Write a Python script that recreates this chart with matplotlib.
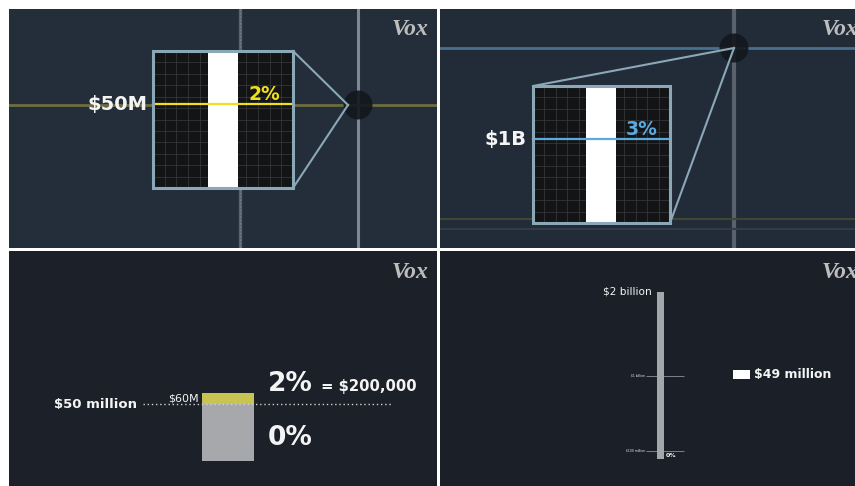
import matplotlib
matplotlib.use("Agg")
import matplotlib.pyplot as plt
from matplotlib.patches import Rectangle, Circle

W, H = 855, 486
SANS = "DejaVu Sans"
LOGO = "Liberation Serif"

# Wealth-tax brackets shown in the magnified insets
bracket_labels = ["$50M", "$1B"]
bracket_rates = ["2%", "3%"]
bracket_colors = ["#f0df1e", "#5ca9de"]
bracket_dim_colors = ["#6d6e3f", "#48708f"]

# A $60M fortune against the $50M threshold
example_wealth = 60            # $ millions
example_threshold = 50         # $ millions
example_wealth_label = "$60M"
example_threshold_label = "$50 million"
example_rates = ["0%", "2%"]
example_tax_label = "= $200,000"

# A $2B fortune
big_wealth = 2000              # $ millions
big_wealth_label = "$2 billion"
big_ticks = [1000, 100]        # $ millions
big_tick_labels = ["$1 billion", "$100 million"]
big_base_label = "0%"
big_tax_label = "$49 million"

BOX_EDGE = "#8ba8b7"
WHITE = "#f4f4f4"

fig = plt.figure(figsize=(W / 100, H / 100), dpi=100, facecolor="white")


def panel(x0, y0, x1, y1, bg):
    ax = fig.add_axes([x0 / W, 1 - y1 / H, (x1 - x0) / W, (y1 - y0) / H])
    ax.set_xlim(x0, x1)
    ax.set_ylim(y1, y0)
    ax.set_facecolor(bg)
    for s in ax.spines.values():
        s.set_visible(False)
    ax.set_xticks([])
    ax.set_yticks([])
    return ax


def value_axes(host, zero_px, px_per_unit):
    """Transparent overlay: x in pixels like the host, y in $ millions."""
    x0, x1 = host.get_xlim()
    y_bottom, y_top = host.get_ylim()
    ax = fig.add_axes(host.get_position())
    ax.set_xlim(x0, x1)
    ax.set_ylim((zero_px - y_bottom) / px_per_unit, (zero_px - y_top) / px_per_unit)
    ax.patch.set_visible(False)
    ax.set_axis_off()
    return ax


def logo(ax, x, y):
    ax.text(x, y, "Vox", family=LOGO, fontstyle="italic", fontweight="bold",
            fontsize=17, color="#bdbdbd", ha="left", va="baseline",
            clip_on=True, zorder=20)


def magnifier(ax, box, apex, corners, label, rate, color):
    x0, y0, x1, y1 = box
    w, h = x1 - x0, y1 - y0
    ax.add_patch(Rectangle((x0, y0), w, h, facecolor="#131415",
                           edgecolor="none", zorder=5))
    n = 12
    for i in range(1, n):
        ax.plot([x0 + w * i / n] * 2, [y0, y1], color="#3b3c3e", lw=0.5, zorder=6)
        ax.plot([x0, x1], [y0 + h * i / n] * 2, color="#3b3c3e", lw=0.5, zorder=6)
    ax.add_patch(Rectangle((x0 + 0.39 * w, y0), 0.215 * w, h,
                           facecolor="white", edgecolor="none", zorder=7))
    ly = y0 + 0.39 * h
    ax.plot([x0, x1], [ly, ly], color=color, lw=1.6, zorder=8)
    ax.text(x0 + 0.68 * w, y0 + 0.355 * h, rate, color=color, family=SANS,
            fontweight="bold", fontsize=13.5, ha="left", va="baseline", zorder=9)
    ax.text(x0 - 6, ly, label, color=WHITE, family=SANS, fontweight="bold",
            fontsize=14, ha="right", va="center", zorder=9)
    ax.add_patch(Rectangle((x0, y0), w, h, facecolor="none",
                           edgecolor=BOX_EDGE, lw=2.2, zorder=10))
    for cx, cy in corners:
        ax.plot([cx, apex[0]], [cy, apex[1]], color=BOX_EDGE, lw=1.5, zorder=10)


# ---- top left: the 2% bracket ----
ax = panel(9, 9, 437, 248, "#242d3a")
ax.plot([240, 240], [9, 248], color="#59616c", lw=2.4, zorder=1)
ax.plot([240, 240], [9, 248], color="#747c86", lw=0.8, ls=(0, (1.5, 1.5)), zorder=1)
ax.plot([358, 358], [9, 248], color="#7f8791", lw=2.2, zorder=1)
ax.plot([9, 437], [105, 105], color=bracket_dim_colors[0], lw=2, zorder=2)
ax.add_patch(Circle((358, 105), 14.5, facecolor="#13171d", alpha=0.9,
                    edgecolor="none", zorder=3))
magnifier(ax, (153, 51, 293, 188), (348, 105), [(293, 51), (293, 188)],
          bracket_labels[0], bracket_rates[0], bracket_colors[0])
logo(ax, 392, 35)

# ---- top right: the 3% bracket ----
ax = panel(440, 9, 855, 248, "#222b38")
ax.plot([734, 734], [9, 248], color="#59616c", lw=3, zorder=1)
ax.plot([440, 855], [48, 48], color=bracket_dim_colors[1], lw=2, zorder=2)
ax.plot([440, 855], [219, 219], color="#3f4733", lw=1.5, zorder=1)
ax.plot([440, 855], [229, 229], color="#333b47", lw=1.5, zorder=1)
ax.add_patch(Circle((734, 48), 14.5, facecolor="#13171d", alpha=0.9,
                    edgecolor="none", zorder=3))
magnifier(ax, (533, 86, 670, 223), (734, 48), [(533, 86), (670, 223)],
          bracket_labels[1], bracket_rates[1], bracket_colors[1])
logo(ax, 822, 35)

# ---- bottom left: $60M fortune ----
ax = panel(9, 251, 437, 486, "#1b2029")
vax = value_axes(ax, zero_px=461, px_per_unit=68 / 60)
bar_x, bar_w = 228, 52
vax.bar(bar_x, example_threshold, width=bar_w, bottom=0,
        color="#a6a8ac", zorder=3)
vax.bar(bar_x, example_wealth - example_threshold, width=bar_w,
        bottom=example_threshold, color="#c8c452", zorder=3)
vax.hlines(example_threshold, 143, 393, color="#d2d2d2", lw=1,
           linestyles=(0, (1, 2)), zorder=4)
vax.text(137, example_threshold, example_threshold_label, color=WHITE,
         family=SANS, fontweight="bold", fontsize=9.5, ha="right", va="center")
vax.text(bar_x - bar_w / 2 - 3, example_wealth, example_wealth_label,
         color=WHITE, family=SANS, fontsize=8, ha="right", va="top")
ax.text(268, 391, example_rates[1], color=WHITE, family=SANS,
        fontweight="bold", fontsize=19, ha="left", va="baseline")
ax.text(321, 391, example_tax_label, color=WHITE, family=SANS,
        fontweight="bold", fontsize=10.7, ha="left", va="baseline")
ax.text(268, 445, example_rates[0], color=WHITE, family=SANS,
        fontweight="bold", fontsize=19, ha="left", va="baseline")
logo(ax, 392, 278)

# ---- bottom right: $2B fortune ----
ax = panel(440, 251, 855, 486, "#1a1f28")
vax = value_axes(ax, zero_px=459, px_per_unit=167 / 2000)
vax.bar(660.5, big_wealth, width=7.5, color="#a3a6ab", zorder=3)
for v, lab in zip(big_ticks, big_tick_labels):
    vax.hlines(v, 646, 684, color="#8c929a", lw=0.6, zorder=2)
    vax.text(645, v, lab, color=WHITE, family=SANS, fontsize=2.2,
             ha="right", va="center")
vax.text(652, big_wealth, big_wealth_label, color=WHITE, family=SANS,
         fontsize=7.6, ha="right", va="center")
ax.text(666, 455, big_base_label, color=WHITE, family=SANS,
        fontweight="bold", fontsize=4.5, ha="left", va="center")
ax.add_patch(Rectangle((733, 370), 17, 9, facecolor="white", edgecolor="none"))
ax.text(754, 374.5, big_tax_label, color=WHITE, family=SANS,
        fontweight="bold", fontsize=9, ha="left", va="center")
logo(ax, 822, 278)

fig.savefig("out.png", dpi=100, facecolor="white")
